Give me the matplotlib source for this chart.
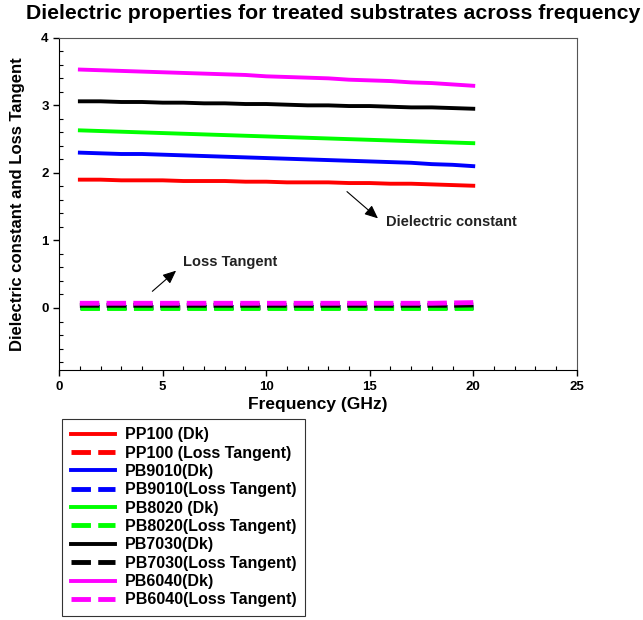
import matplotlib
matplotlib.use("Agg")
import matplotlib.pyplot as plt
from matplotlib.ticker import MultipleLocator

plt.rcParams['font.family'] = ['Liberation Sans', 'DejaVu Sans']
plt.rcParams['font.weight'] = 'bold'

freq = [1, 2, 3, 4, 5, 6, 7, 8, 9, 10, 11, 12, 13, 14, 15, 16, 17, 18, 19, 20]

pp100_dk = [1.90, 1.90, 1.89, 1.89, 1.89, 1.88, 1.88, 1.88, 1.87, 1.87, 1.86, 1.86, 1.86, 1.85, 1.85, 1.84, 1.84, 1.83, 1.82, 1.81]
pb9010_dk = [2.30, 2.29, 2.28, 2.28, 2.27, 2.26, 2.25, 2.24, 2.23, 2.22, 2.21, 2.20, 2.19, 2.18, 2.17, 2.16, 2.15, 2.13, 2.12, 2.10]
pb8020_dk = [2.63, 2.62, 2.61, 2.60, 2.59, 2.58, 2.57, 2.56, 2.55, 2.54, 2.53, 2.52, 2.51, 2.50, 2.49, 2.48, 2.47, 2.46, 2.45, 2.44]
pb7030_dk = [3.06, 3.06, 3.05, 3.05, 3.04, 3.04, 3.03, 3.03, 3.02, 3.02, 3.01, 3.00, 3.00, 2.99, 2.99, 2.98, 2.97, 2.97, 2.96, 2.95]
pb6040_dk = [3.53, 3.52, 3.51, 3.50, 3.49, 3.48, 3.47, 3.46, 3.45, 3.43, 3.42, 3.41, 3.40, 3.38, 3.37, 3.36, 3.34, 3.33, 3.31, 3.29]

pp100_lt = [0.01, 0.01, 0.01, 0.01, 0.01, 0.01, 0.01, 0.01, 0.01, 0.01, 0.01, 0.01, 0.01, 0.01, 0.01, 0.01, 0.01, 0.01, 0.01, 0.01]
pb9010_lt = [0.02, 0.02, 0.02, 0.02, 0.02, 0.02, 0.02, 0.02, 0.02, 0.02, 0.02, 0.02, 0.02, 0.02, 0.02, 0.02, 0.02, 0.02, 0.02, 0.02]
pb8020_lt = [0.005, 0.005, 0.005, 0.005, 0.005, 0.005, 0.005, 0.005, 0.005, 0.005, 0.005, 0.005, 0.005, 0.005, 0.005, 0.005, 0.005, 0.005, 0.005, 0.005]
pb7030_lt = [0.04, 0.04, 0.04, 0.04, 0.04, 0.04, 0.04, 0.04, 0.04, 0.04, 0.04, 0.04, 0.04, 0.04, 0.04, 0.04, 0.04, 0.04, 0.04, 0.045]
pb6040_lt = [0.07, 0.07, 0.07, 0.07, 0.07, 0.07, 0.07, 0.07, 0.07, 0.07, 0.07, 0.07, 0.07, 0.07, 0.07, 0.07, 0.07, 0.07, 0.075, 0.08]

series = [
    ("PP100 (Dk)", pp100_dk, "#ff0000", "-"),
    ("PP100 (Loss Tangent)", pp100_lt, "#ff0000", "--"),
    ("PB9010(Dk)", pb9010_dk, "#0000ff", "-"),
    ("PB9010(Loss Tangent)", pb9010_lt, "#0000ff", "--"),
    ("PB8020 (Dk)", pb8020_dk, "#00ff00", "-"),
    ("PB8020(Loss Tangent)", pb8020_lt, "#00ff00", "--"),
    ("PB7030(Dk)", pb7030_dk, "#000000", "-"),
    ("PB7030(Loss Tangent)", pb7030_lt, "#000000", "--"),
    ("PB6040(Dk)", pb6040_dk, "#ff00ff", "-"),
    ("PB6040(Loss Tangent)", pb6040_lt, "#ff00ff", "--"),
]

fig = plt.figure(figsize=(6.43, 6.2), dpi=100)
ax = fig.add_axes([0.092, 0.403, 0.805, 0.536])

handles = []
for label, vals, color, ls in series:
    if ls == "-":
        h, = ax.plot(freq, vals, color=color, lw=2.8, ls="-", label=label)
    else:
        h, = ax.plot(freq, vals, color=color, lw=3.5, ls=(0, (4, 1.5)), label=label)
    handles.append(h)

ax.set_xlim(0, 25)
ax.set_ylim(-0.92, 4)
ax.xaxis.set_major_locator(MultipleLocator(5))
ax.xaxis.set_minor_locator(MultipleLocator(1))
ax.yaxis.set_major_locator(MultipleLocator(1))
ax.yaxis.set_minor_locator(MultipleLocator(0.2))
ax.tick_params(which='major', direction='out', length=4, width=1, labelsize=9.5)
ax.tick_params(which='minor', direction='in', length=3, width=0.8)
for lab in ax.get_xticklabels() + ax.get_yticklabels():
    lab.set_fontweight('bold')
for s in ['top', 'right']:
    ax.spines[s].set_color('#555555')
    ax.spines[s].set_linewidth(0.8)

ax.set_xlabel("Frequency (GHz)", fontsize=12.5, fontweight='bold', labelpad=3)
ax.set_ylabel("Dielectric constant and Loss Tangent", fontsize=12, fontweight='bold', labelpad=12)
fig.text(0.04, 0.978, "Dielectric properties for treated substrates across frequency",
         fontsize=15.3, fontweight='bold', ha='left', va='center')

ax.annotate("", xy=(15.5, 1.3), xytext=(13.8, 1.75),
            arrowprops=dict(arrowstyle='-|>,head_length=0.8,head_width=0.35', color='black', lw=0.8))
ax.text(15.8, 1.28, "Dielectric constant", fontsize=10.5, fontweight='bold', va='center', color='#222222')
ax.annotate("", xy=(5.75, 0.58), xytext=(4.4, 0.22),
            arrowprops=dict(arrowstyle='-|>,head_length=0.8,head_width=0.35', color='black', lw=0.8))
ax.text(6.0, 0.68, "Loss Tangent", fontsize=10.5, fontweight='bold', va='center', color='#222222')

leg = fig.legend(handles=handles, loc='upper left', bbox_to_anchor=(0.096, 0.325),
                 bbox_transform=fig.transFigure, frameon=True, fancybox=False,
                 edgecolor='black', handlelength=2.8, labelspacing=0.21,
                 borderpad=0.55, handletextpad=0.6, borderaxespad=0,
                 prop={'weight': 'bold', 'size': 11.5})
leg.get_frame().set_linewidth(0.8)

fig.savefig("out.png", dpi=100)
